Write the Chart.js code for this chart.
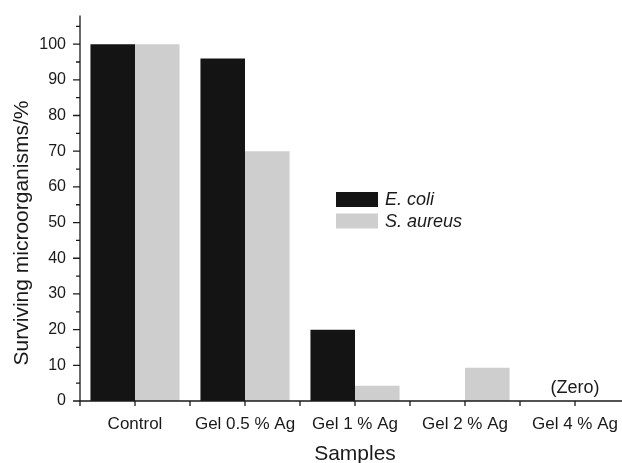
<!DOCTYPE html>
<html>
<head>
<meta charset="utf-8">
<script src="https://cdn.jsdelivr.net/npm/chart.js@4/dist/chart.umd.min.js"></script>
<style>
  html, body { margin: 0; padding: 0; background: #fff; overflow: hidden; }
  #wrap { width: 622px; height: 463px; overflow: hidden; }
  canvas { display: block; }
</style>
</head>
<body>
<div id="wrap"><canvas id="c" width="632" height="463" style="width:632px;height:463px"></canvas></div>
<script>
// Survival of microorganisms after contact with silver-loaded gels
const samples = ['Control', 'Gel 0.5 % Ag', 'Gel 1 % Ag', 'Gel 2 % Ag', 'Gel 4 % Ag'];
const eColi = [100, 96, 20, 0, 0];
const sAureus = [100, 70, 4.3, 9.3, 0];
const seriesNames = ['E. coli', 'S. aureus'];
const yTicks = [0, 10, 20, 30, 40, 50, 60, 70, 80, 90, 100];
const zeroNote = '(Zero)';

const INK = '#1a1a1a';
const FONT = "'Liberation Sans', Arial, Helvetica, sans-serif";

// Axis lines, tick marks, legend, titles and the note over the empty group
const decorations = {
  id: 'decorations',
  afterDatasetsDraw(chart) {
    const { ctx, chartArea: a, scales: { x, y } } = chart;
    ctx.save();
    ctx.strokeStyle = INK;
    ctx.lineWidth = 1.3;
    ctx.beginPath();
    ctx.moveTo(a.left, a.top);
    ctx.lineTo(a.left, a.bottom);
    ctx.lineTo(a.right, a.bottom);
    ctx.stroke();

    // y ticks: major every 10, minor every 5
    ctx.beginPath();
    for (let v = 0; v <= 105; v += 5) {
      const py = y.getPixelForValue(v);
      const len = v % 10 === 0 ? 7 : 4;
      ctx.moveTo(a.left - len, py);
      ctx.lineTo(a.left, py);
    }
    // x ticks: at category centres and boundaries
    const step = (x.getPixelForValue(1) - x.getPixelForValue(0));
    for (let i = 0; i < samples.length; i++) {
      const cx = x.getPixelForValue(i);
      [cx - step / 2, cx].forEach(px => {
        ctx.moveTo(px, a.bottom);
        ctx.lineTo(px, a.bottom + 5);
      });
    }
    ctx.moveTo(a.right, a.bottom);
    ctx.lineTo(a.right, a.bottom + 5);
    ctx.stroke();

    // legend
    const lx = 336, ly = 192;
    chart.data.datasets.forEach((ds, i) => {
      const top = ly + i * 21.5;
      ctx.fillStyle = ds.backgroundColor;
      ctx.fillRect(lx, top, 42, 15);
      ctx.fillStyle = INK;
      ctx.font = 'italic 18px ' + FONT;
      ctx.textAlign = 'left';
      ctx.textBaseline = 'middle';
      ctx.fillText(ds.label, lx + 49, top + 8);
    });

    // note above the last group
    ctx.font = '18px ' + FONT;
    ctx.textAlign = 'center';
    ctx.textBaseline = 'middle';
    ctx.fillText(zeroNote, x.getPixelForValue(4), y.getPixelForValue(0) - 13);

    // axis titles
    ctx.font = '21px ' + FONT;
    ctx.fillText('Samples', (a.left + a.right) / 2, 454);
    ctx.translate(22, 233);
    ctx.rotate(-Math.PI / 2);
    ctx.fillText('Surviving microorganisms/%', 0, 0);
    ctx.restore();
  }
};

new Chart(document.getElementById('c'), {
  type: 'bar',
  data: {
    labels: samples,
    datasets: [
      { label: seriesNames[0], data: eColi, backgroundColor: '#141414' },
      { label: seriesNames[1], data: sAureus, backgroundColor: '#cecece' }
    ]
  },
  options: {
    responsive: false,
    devicePixelRatio: 1,
    animation: false,
    layout: { padding: { left: 0, right: 2, top: 8, bottom: 0 } },
    datasets: { bar: { barPercentage: 1, categoryPercentage: 0.81, borderWidth: 0 } },
    plugins: { legend: { display: false }, tooltip: { enabled: false } },
    scales: {
      x: {
        grid: { display: false },
        border: { display: false },
        ticks: { color: INK, font: { family: FONT, size: 17 }, padding: 5, maxRotation: 0, autoSkip: false },
        afterFit(s) { s.height = 62; }
      },
      y: {
        min: 0,
        max: 108,
        grid: { display: false },
        border: { display: false },
        afterBuildTicks(s) { s.ticks = yTicks.map(v => ({ value: v })); },
        ticks: { color: INK, font: { family: FONT, size: 16 }, padding: 6 },
        afterFit(s) { s.width = 80; }
      }
    }
  },
  plugins: [decorations]
});
</script>
</body>
</html>
